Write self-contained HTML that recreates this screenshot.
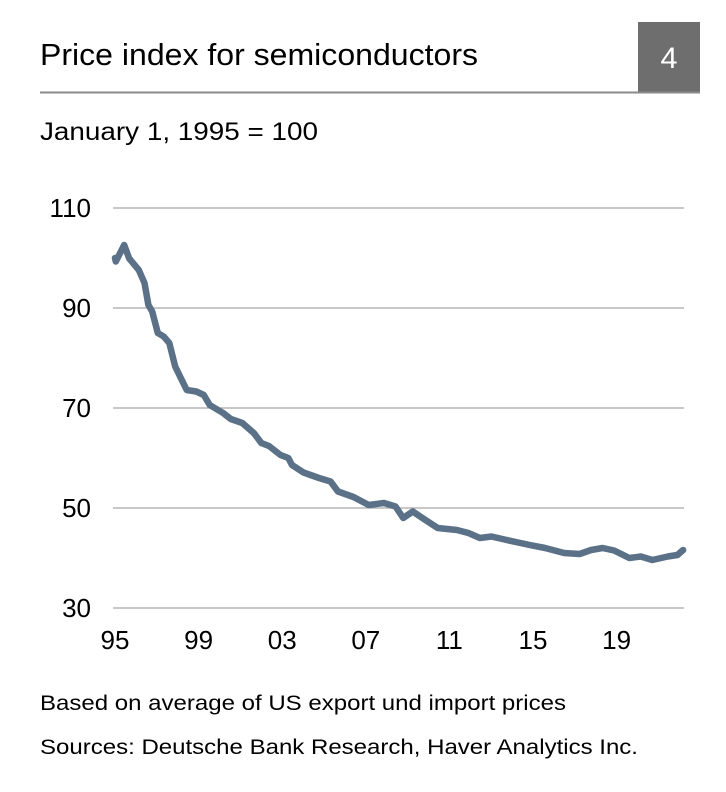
<!DOCTYPE html>
<html><head><meta charset="utf-8"><style>
html,body{margin:0;padding:0;background:#fff;}
svg{display:block;font-family:"Liberation Sans",Arial,sans-serif;}
</style></head><body>
<svg width="726" height="792" viewBox="0 0 726 792">
<text x="40" y="65" font-size="31" fill="#000" textLength="438" lengthAdjust="spacingAndGlyphs">Price index for semiconductors</text>
<rect x="638" y="22" width="62" height="70" fill="#6e6e6e"/>
<text x="669" y="68" font-size="30" fill="#fff" text-anchor="middle" textLength="17" lengthAdjust="spacingAndGlyphs">4</text>
<line x1="40" y1="92.5" x2="700" y2="92.5" stroke="#8a8a8a" stroke-width="2"/>
<text x="40" y="140" font-size="25" fill="#000" textLength="278" lengthAdjust="spacingAndGlyphs">January 1, 1995 = 100</text>
<g id="grid"></g>
<g id="yticks"></g>
<g id="xticks"></g>
<path id="line" fill="none" stroke="#5a7187" stroke-width="6.5" stroke-linejoin="round" stroke-linecap="round"/>
<text x="40" y="710" font-size="21" fill="#000" textLength="526" lengthAdjust="spacingAndGlyphs">Based on average of US export und import prices</text>
<text x="40" y="754" font-size="21" fill="#000" textLength="598" lengthAdjust="spacingAndGlyphs">Sources: Deutsche Bank Research, Haver Analytics Inc.</text>
</svg>
<script>
const years=[1995.0,1995.04,1995.44,1995.68,1996.14,1996.41,1996.6,1996.78,1997.05,1997.33,1997.6,1997.88,1998.15,1998.43,1998.89,1999.25,1999.53,2000.17,2000.54,2001.09,2001.64,2002.0,2002.37,2002.92,2003.29,2003.47,2004.02,2004.76,2005.31,2005.67,2006.41,2007.14,2007.87,2008.42,2008.79,2009.25,2009.71,2010.44,2011.36,2011.91,2012.46,2013.01,2013.74,2014.84,2015.58,2016.49,2017.23,2017.78,2018.33,2018.88,2019.61,2020.16,2020.71,2021.45,2021.91,2022.18];
const values=[100,99.3,102.6,99.9,97.6,95,90.6,89.3,85,84.3,83,78.3,76,73.6,73.3,72.6,70.6,69,67.8,67,65,63,62.4,60.6,60,58.6,57.1,56,55.3,53.3,52.2,50.6,51,50.3,48,49.3,48,46,45.6,45,44,44.3,43.6,42.6,42,41,40.8,41.6,42,41.5,40,40.3,39.6,40.3,40.6,41.6];
const yTicks=[30,50,70,90,110];
const xTickYears=[1995,1999,2003,2007,2011,2015,2019];
const xTickLabels=["95","99","03","07","11","15","19"];
const NS="http://www.w3.org/2000/svg";
const xPx=yr=>115+(yr-1995)*20.9;
const yPx=v=>608-(v-30)*5;
const grid=document.getElementById('grid'),yt=document.getElementById('yticks'),xt=document.getElementById('xticks');
yTicks.forEach(t=>{
 const l=document.createElementNS(NS,'line');
 
 
 l.setAttribute('x1',113);l.setAttribute('x2',684);
 l.setAttribute('y1',yPx(t));l.setAttribute('y2',yPx(t));
 l.setAttribute('stroke','#a8a8a8');l.setAttribute('stroke-width','1.2');
 grid.appendChild(l);
 const tx=document.createElementNS(NS,'text');
 
 
 tx.setAttribute('x',91);tx.setAttribute('y',yPx(t)+9);
 tx.setAttribute('text-anchor','end');tx.setAttribute('font-size','26');
 tx.textContent=t;yt.appendChild(tx);
});
xTickYears.forEach((yr,i)=>{
 const tx=document.createElementNS(NS,'text');
 
 
 tx.setAttribute('x',xPx(yr));tx.setAttribute('y',649);
 tx.setAttribute('text-anchor','middle');tx.setAttribute('font-size','26');
 tx.textContent=xTickLabels[i];xt.appendChild(tx);
});
document.getElementById('line').setAttribute('d',years.map((y,i)=>(i?'L':'M')+xPx(y).toFixed(1)+','+yPx(values[i]).toFixed(1)).join(' '));
</script>
</body></html>
